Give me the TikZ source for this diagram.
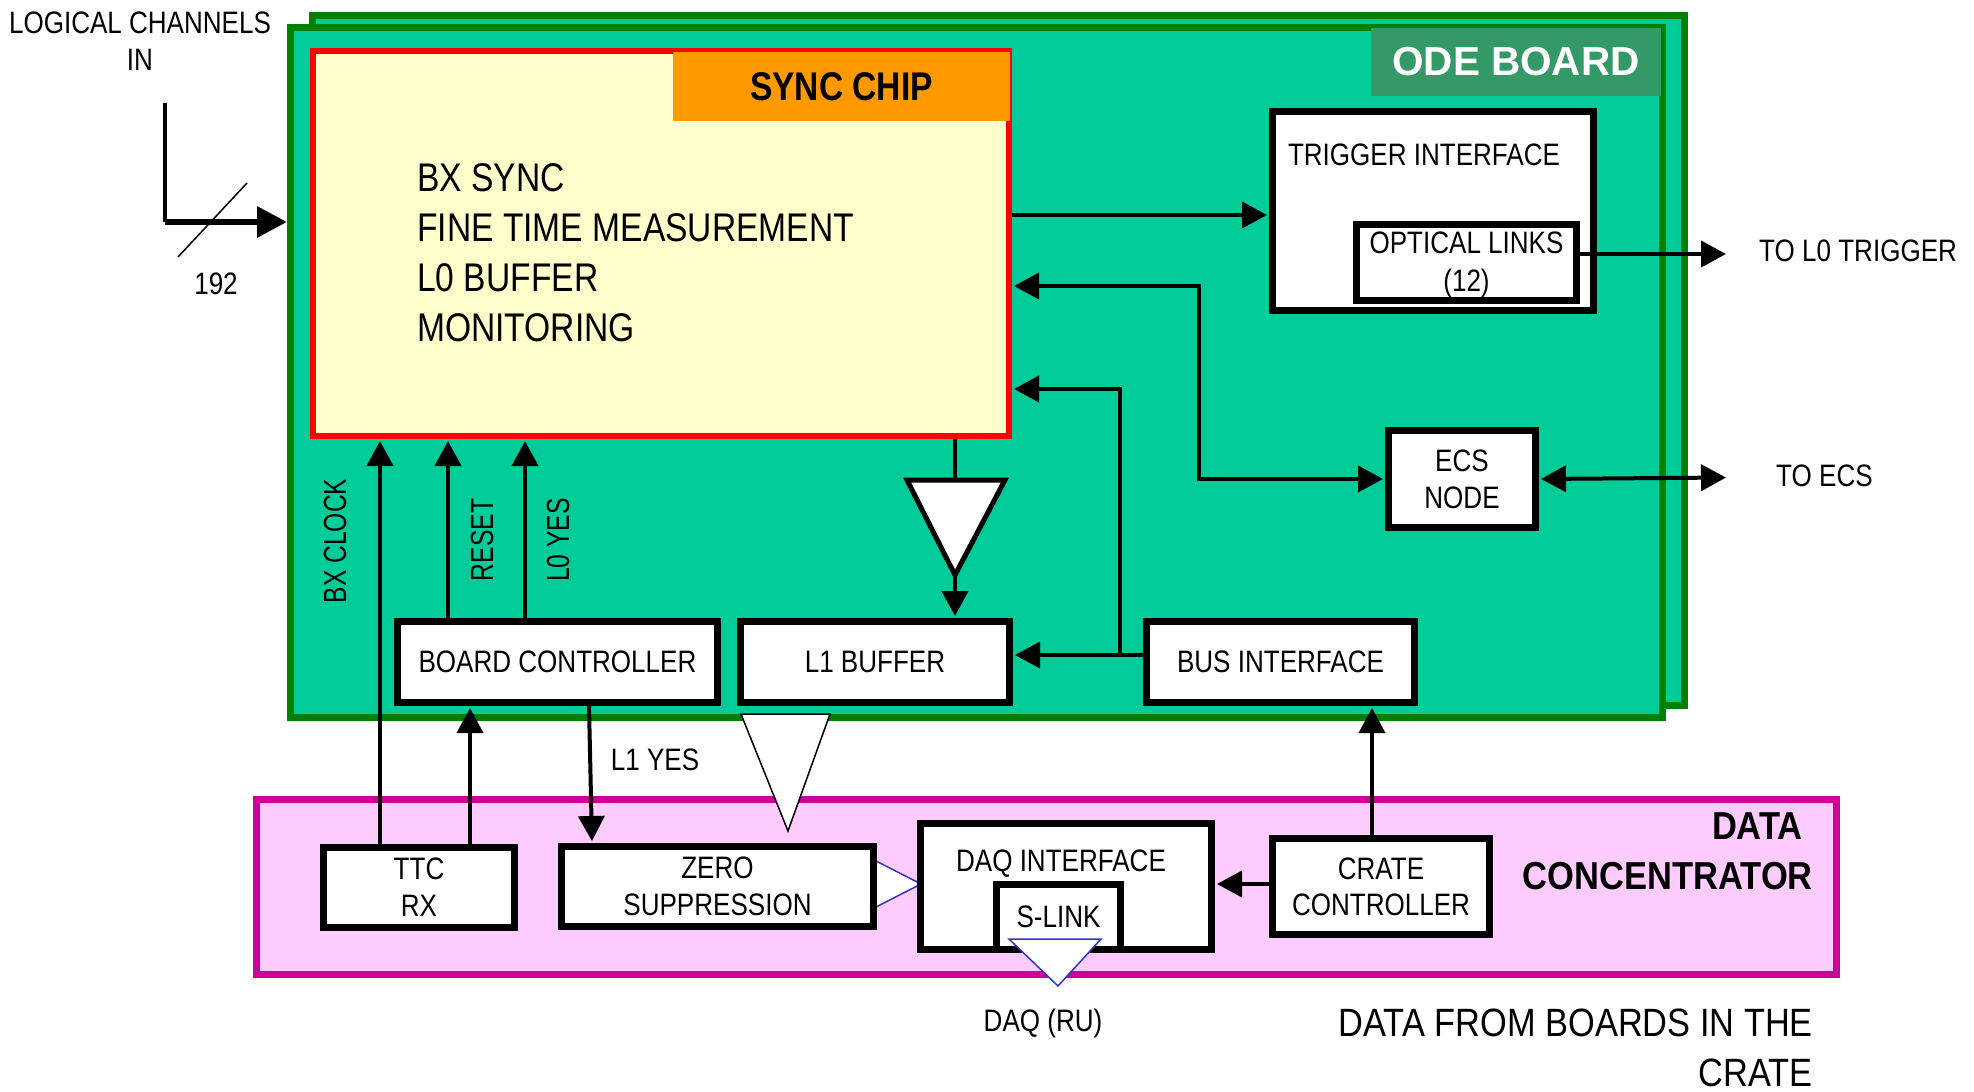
\documentclass[tikz,border=0pt]{standalone}
\usepackage{fontspec}
\setmainfont{Liberation Sans}[FakeStretch=0.84]
\newfontfamily\vfont{Liberation Sans}[FakeStretch=0.77]
\newfontfamily\odefont{Liberation Sans}
\newfontfamily\widefont{Liberation Sans}[FakeStretch=0.87]
\newfontfamily\wideboldfont{Liberation Sans}[FakeStretch=0.885]
\usetikzlibrary{arrows.meta}
\definecolor{boardfill}{HTML}{00CC99}
\definecolor{boardgreen}{HTML}{008000}
\definecolor{odegreen}{HTML}{339966}
\definecolor{syncfill}{HTML}{FFFFCC}
\definecolor{chiporange}{HTML}{FF9900}
\definecolor{pinkfill}{HTML}{FFCCFF}
\definecolor{pinkborder}{HTML}{CC0099}
\definecolor{triblue}{HTML}{3333CC}
\begin{document}
\begin{tikzpicture}[x=1pt,y=-1pt,
  boardbox/.style={draw=boardgreen, line width=7pt, fill=boardfill, inner sep=0pt, minimum width=1372pt, minimum height=690pt},
  box/.style={draw=black, line width=7pt, fill=white, inner sep=0pt, rectangle, align=center, text depth=0pt, font=\fontsize{31}{38}\selectfont},
  txt/.style={inner sep=0pt, font=\fontsize{31}{38}\selectfont},
  vtxt/.style={inner sep=0pt, rotate=90, font=\vfont\fontsize{32}{34}\selectfont},
  conn/.style={line width=4pt},
  arr/.style={conn, shorten >=2pt, -{Triangle[length=25pt,width=26pt]}},
  biarr/.style={conn, shorten >=2pt, shorten <=2pt, {Triangle[length=25pt,width=26pt]}-{Triangle[length=25pt,width=26pt]}},
  inarr/.style={line width=6.5pt, -{Triangle[length=30pt,width=30pt]}},
  whitetri/.style={draw=black, line width=1.5pt, fill=white, line join=miter},
  bluetri/.style={draw=triblue, line width=1.5pt, fill=white},
  buftri/.style={draw=black, line width=5pt, fill=white, line join=miter}
]
\useasboundingbox (0,0) rectangle (1974,1092);

% ODE boards
\node[boardbox] (boardback) at (998.5,360.75) {};
\node[boardbox] (board) at (976.5,372.5) {};
\node[fill=odegreen, minimum width=290pt, minimum height=68pt, inner sep=0pt, text=white,
      font=\odefont\bfseries\fontsize{40.5}{42}\selectfont] (ode) at (1516,62) {ODE BOARD};

% sync chip
\node[draw=red, line width=6pt, fill=syncfill, minimum width=696pt, minimum height=385pt, inner sep=0pt] (sync) at (661,243.5) {};
\node[fill=chiporange, minimum width=337pt, minimum height=69pt, inner sep=0pt,
      font=\bfseries\fontsize{40}{42}\selectfont] (synclabel) at (841.5,86.5) {SYNC CHIP};
\node[anchor=north west, align=left, inner sep=0pt, font=\fontsize{40}{50}\selectfont] (synctext) at (417,163)
  {BX SYNC\\FINE TIME MEASUREMENT\\L0 BUFFER\\MONITORING};

% boxes on the board
\node[box, minimum width=321pt, minimum height=199pt] (trig) at (1433,211) {};
\node[txt, anchor=base] (trigtxt) at (1424,165) {TRIGGER INTERFACE};
\node[box, minimum width=220pt, minimum height=76pt] (opt) at (1466.5,262) {OPTICAL LINKS\\(12)};
\node[box, minimum width=147pt, minimum height=97pt, font=\fontsize{31}{36.5}\selectfont] (ecs) at (1462,479) {ECS\\NODE};
\node[box, minimum width=320pt, minimum height=81pt] (bc) at (557.5,662) {BOARD CONTROLLER};
\node[box, minimum width=269pt, minimum height=81pt] (l1) at (875,662) {L1 BUFFER};
\node[box, minimum width=268pt, minimum height=81pt] (bus) at (1280.5,662) {BUS INTERFACE};

% data concentrator
\node[draw=pinkborder, fill=pinkfill, line width=7pt, minimum width=1580pt, minimum height=175pt, inner sep=0pt] (dc) at (1046.5,887) {};
\node[box, minimum width=191pt, minimum height=80pt, font=\fontsize{31}{37}\selectfont] (ttc) at (419,887.5) {TTC\\RX};
\coordinate (zsA) at (876,861);
\coordinate (zsB) at (876,907);
\coordinate (zsApex) at (921,884);
\draw[bluetri] (zsA) -- (zsApex) -- (zsB) -- cycle;
\node[box, minimum width=312pt, minimum height=80pt, font=\fontsize{31}{37}\selectfont] (zs) at (717.5,886.5) {ZERO\\SUPPRESSION};
\node[box, minimum width=291pt, minimum height=126pt] (daq) at (1066,886.5) {};
\node[txt, anchor=base] (daqtxt) at (1061,871) {DAQ INTERFACE};
\node[box, minimum width=124pt, minimum height=65pt] (slink) at (1058.5,917) {S-LINK};
\node[box, minimum width=217pt, minimum height=96pt, font=\fontsize{31}{36}\selectfont] (cc) at (1381,886.5) {CRATE\\CONTROLLER};

% triangles
\coordinate (wtA) at (741,714);
\coordinate (wtB) at (830,714);
\coordinate (wtApex) at (788,831);
\draw[whitetri] (wtA) -- (wtB) -- (wtApex) -- cycle;
\coordinate (slA) at (1009,939);
\coordinate (slB) at (1101,939);
\coordinate (slApex) at (1058,986);
\draw[bluetri] (slA) -- (slB) -- (slApex) -- cycle;

% coordinates for connectors
\coordinate (inTop) at (165,103);
\coordinate (inCorner) at (165,222);
\coordinate (slashA) at (178,257);
\coordinate (slashB) at (247,183);
\coordinate (yTrig) at (1140,215);
\coordinate (l0out) at (1728,254);
\coordinate (ecsA) at (1199,286);
\coordinate (ecsout) at (1728,477.5);
\coordinate (busA) at (1120,389);
\coordinate (busJ) at (1120,655);
\coordinate (bxX) at (380,0);
\coordinate (resetX) at (448,0);
\coordinate (l0X) at (525,0);
\coordinate (ttcbcX) at (470,0);
\coordinate (l1yA) at (589,0);
\coordinate (l1yB) at (592,0);
\coordinate (bufX) at (955,0);
\coordinate (bufTop) at (955,480);
\coordinate (bufL) at (907,480);
\coordinate (bufR) at (1005,480);
\coordinate (bufApex) at (955,575);
\coordinate (crX) at (1372,0);
\coordinate (daqY) at (0,884);

% connectors
\draw[conn] (inTop) -- (inCorner);
\draw[inarr] (inCorner) -- (board.west |- inCorner);
\draw[line width=1.5pt] (slashA) -- (slashB);
\draw[arr] (sync.east |- yTrig) -- (trig.west |- yTrig);
\draw[arr] (opt.east |- l0out) -- (l0out);
\draw[biarr] (sync.east |- ecsA) -- (ecsA) -- (ecsA |- ecs.west) -- (ecs.west);
\draw[biarr] (ecs.east) -- (ecsout);
\draw[arr] (bus.west |- busJ) -- (l1.east |- busJ);
\draw[arr] (busJ) -- (busA) -- (sync.east |- busA);
\draw[conn] (sync.south -| bufX) -- (bufTop);
\draw[buftri] (bufL) -- (bufR) -- (bufApex) -- cycle;
\draw[arr] (bufApex) -- (l1.north -| bufX);
\draw[arr] (ttc.north -| bxX) -- (sync.south -| bxX);
\draw[arr] (bc.north -| resetX) -- (sync.south -| resetX);
\draw[arr] (bc.north -| l0X) -- (sync.south -| l0X);
\draw[arr] (ttc.north -| ttcbcX) -- (bc.south -| ttcbcX);
\draw[arr] (bc.south -| l1yA) -- (zs.north -| l1yB);
\draw[arr] (cc.north -| crX) -- (bus.south -| crX);
\draw[arr] (cc.west |- daqY) -- (daq.east |- daqY);

% labels
\node[txt, anchor=north, align=center, font=\fontsize{31}{36.5}\selectfont] (lcin) at (140,12) {LOGICAL CHANNELS\\IN};
\node[txt, anchor=base] (n192) at (216,294) {192};
\node[vtxt] (lbx) at (335,541) {BX CLOCK};
\node[vtxt] (lreset) at (482,540) {RESET};
\node[vtxt] (ll0) at (558,540) {L0 YES};
\node[txt, anchor=base] (l1yes) at (655,770) {L1 YES};
\node[txt, anchor=base west] (tol0) at (1759,261.6) {TO L0 TRIGGER};
\node[txt, anchor=base west] (toecs) at (1776,486) {TO ECS};
\node[txt, anchor=base] (daqru) at (1043,1031) {DAQ (RU)};
\node[txt, anchor=north east, align=right, font=\wideboldfont\bfseries\fontsize{39}{50}\selectfont] (dctitle) at (1813,812) {DATA\kern10pt\\CONCENTRATOR};
\node[txt, anchor=north east, align=right, font=\widefont\fontsize{39.5}{50}\selectfont] (fromboards) at (1813,1009) {DATA FROM BOARDS IN THE\\CRATE};
\end{tikzpicture}
\end{document}
